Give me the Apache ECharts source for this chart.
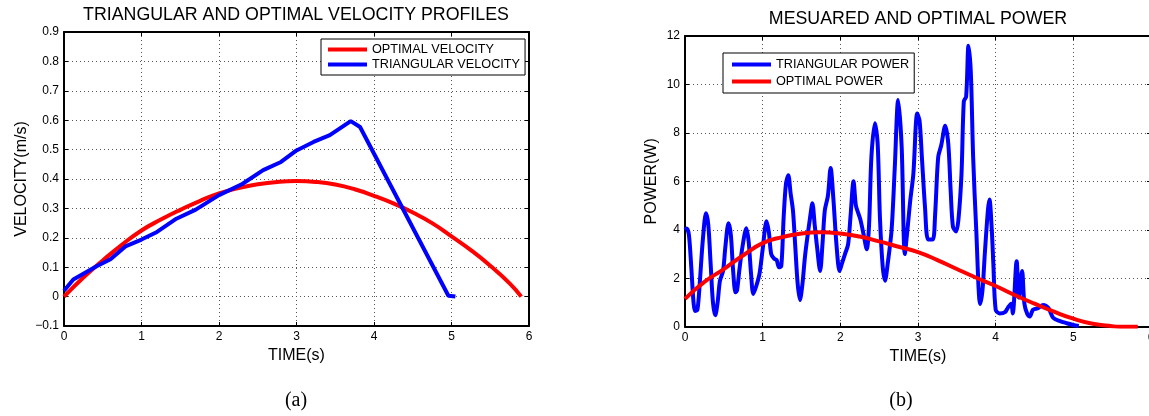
<!DOCTYPE html>
<html><head><meta charset="utf-8">
<script src="https://cdn.jsdelivr.net/npm/echarts@6/dist/echarts.min.js"></script>
<style>html,body{margin:0;padding:0;background:#fff}#c{width:1149px;height:416px}</style>
</head><body><div id="c"></div>
<script>
// ---------- DATA ----------
// (a) velocity profiles
const optVelT = [0, 0.25, 0.5, 0.75, 1.0, 1.25, 1.5, 1.75, 2.0, 2.25, 2.5, 2.75, 3.0, 3.25, 3.5, 3.75, 4.0, 4.25, 4.5, 4.75, 5.0, 5.25, 5.5, 5.75, 5.9];
const optVelV = [0, 0.065, 0.123, 0.177, 0.225, 0.262, 0.295, 0.325, 0.351, 0.369, 0.382, 0.39, 0.393, 0.39, 0.381, 0.365, 0.343, 0.317, 0.286, 0.25, 0.205, 0.158, 0.105, 0.045, 0];
const triVelT = [0, 0.12, 0.42, 0.6, 0.8, 1.0, 1.2, 1.45, 1.7, 2.0, 2.3, 2.57, 2.8, 3.0, 3.22, 3.43, 3.7, 3.82, 4.96, 5.05];
const triVelV = [0.02, 0.058, 0.103, 0.127, 0.172, 0.194, 0.22, 0.265, 0.296, 0.345, 0.383, 0.43, 0.458, 0.497, 0.526, 0.549, 0.597, 0.577, 0.003, 0];
// (b) power
const triPowT = [0.0, 0.02, 0.05, 0.08, 0.11, 0.13, 0.16, 0.19, 0.23, 0.27, 0.3, 0.33, 0.36, 0.39, 0.42, 0.45, 0.49, 0.52, 0.56, 0.59, 0.62, 0.65, 0.67, 0.7, 0.74, 0.79, 0.82, 0.85, 0.88, 0.92, 0.96, 1.0, 1.05, 1.08, 1.11, 1.15, 1.18, 1.21, 1.24, 1.27, 1.3, 1.33, 1.36, 1.39, 1.42, 1.45, 1.48, 1.51, 1.545, 1.58, 1.61, 1.64, 1.67, 1.7, 1.74, 1.77, 1.8, 1.84, 1.875, 1.91, 1.95, 1.99, 2.02, 2.06, 2.1, 2.13, 2.17, 2.2, 2.23, 2.26, 2.3, 2.34, 2.37, 2.4, 2.445, 2.48, 2.51, 2.545, 2.575, 2.61, 2.66, 2.7, 2.745, 2.79, 2.83, 2.87, 2.9, 2.94, 2.99, 3.02, 3.05, 3.09, 3.13, 3.19, 3.22, 3.26, 3.3, 3.35, 3.39, 3.42, 3.45, 3.49, 3.52, 3.56, 3.59, 3.62, 3.65, 3.68, 3.71, 3.75, 3.8, 3.83, 3.86, 3.9, 3.92, 3.95, 3.97, 4.0, 4.05, 4.12, 4.16, 4.2, 4.22, 4.27, 4.3, 4.34, 4.37, 4.41, 4.44, 4.48, 4.55, 4.61, 4.68, 4.74, 4.83, 4.91, 5.0, 5.07];
const triPowP = [4.0, 4.05, 3.8, 2.5, 1.0, 0.65, 0.7, 1.8, 3.6, 4.68, 4.2, 2.6, 1.0, 0.47, 1.0, 1.9, 2.3, 3.3, 4.27, 3.8, 2.3, 1.42, 1.5, 2.34, 3.3, 4.06, 3.5, 2.2, 1.35, 1.7, 2.2, 3.2, 4.35, 3.9, 3.0, 2.8, 2.75, 2.45, 2.5, 4.5, 5.9, 6.25, 5.5, 4.8, 3.3, 1.8, 1.1, 1.7, 2.9, 3.8, 4.5, 5.1, 4.2, 3.3, 2.3, 3.4, 4.8, 5.4, 6.55, 5.3, 3.4, 2.3, 2.6, 3.0, 3.4, 4.5, 6.0, 5.0, 4.7, 4.4, 3.8, 3.2, 4.2, 7.0, 8.4, 7.6, 4.5, 2.5, 1.9, 2.6, 4.0, 6.5, 9.36, 7.4, 3.0, 4.2, 5.2, 6.3, 8.8, 8.5, 7.0, 4.95, 3.6, 3.6, 4.6, 7.0, 7.5, 8.3, 7.55, 5.65, 4.13, 3.93, 4.4, 6.3, 9.3, 9.5, 11.6, 10.5, 7.0, 4.0, 0.94, 1.5, 3.0, 4.8, 5.25, 4.0, 2.6, 0.7, 0.55, 0.6, 0.8, 0.95, 0.55, 2.7, 1.2, 2.3, 0.95, 0.5, 0.42, 0.7, 0.77, 0.9, 0.77, 0.37, 0.23, 0.15, 0.07, 0.03];
const optPowT = [0, 0.25, 0.5, 0.75, 1.0, 1.25, 1.5, 1.75, 2.0, 2.25, 2.5, 2.75, 3.0, 3.25, 3.5, 3.75, 4.0, 4.25, 4.5, 4.75, 5.0, 5.25, 5.5, 5.6, 5.83];
const optPowP = [1.15, 1.85, 2.38, 2.95, 3.45, 3.7, 3.85, 3.9, 3.85, 3.72, 3.52, 3.3, 3.08, 2.75, 2.38, 2.02, 1.68, 1.3, 0.95, 0.62, 0.33, 0.12, 0.02, 0, 0];

const velTicks = {min: -0.1, max: 0.9, interval: 0.1};
const powTicks = {min: 0, max: 12, interval: 2};
const timeTicks = {min: 0, max: 6, interval: 1};

const TITLE_A = 'TRIANGULAR AND OPTIMAL VELOCITY PROFILES';
const TITLE_B = 'MESUARED AND OPTIMAL POWER';

// ---------- CHART ----------
const zip = (a, b) => a.map((v, i) => [v, b[i]]);
const FONT = 'Liberation Sans, Arial, Helvetica, sans-serif';
const fmt = v => String(Math.round(v * 10) / 10).replace('-', '\u2212');

function mainX(grid, name) {
  return {
    gridIndex: grid, type: 'value', ...timeTicks,
    name: name, nameLocation: 'middle', nameGap: 17,
    nameTextStyle: {fontFamily: FONT, fontSize: 16, color: '#000'},
    axisLine: {onZero: false, lineStyle: {color: '#000', width: 2}},
    axisTick: {inside: true, length: 4, lineStyle: {color: '#000', width: 1}},
    axisLabel: {fontFamily: FONT, fontSize: 12, color: '#000', margin: 5, formatter: fmt, hideOverlap: false},
    splitLine: {show: true, lineStyle: {color: '#555', width: 1, type: [1, 3]}}
  };
}
function mainY(grid, ticks, name, gap) {
  return {
    gridIndex: grid, type: 'value', ...ticks,
    name: name, nameLocation: 'middle', nameGap: gap,
    nameTextStyle: {fontFamily: FONT, fontSize: 16, color: '#000'},
    axisLine: {onZero: false, lineStyle: {color: '#000', width: 2}},
    axisTick: {inside: true, length: 4, lineStyle: {color: '#000', width: 1}},
    axisLabel: {fontFamily: FONT, fontSize: 12, color: '#000', margin: 5, formatter: fmt},
    splitLine: {show: true, lineStyle: {color: '#555', width: 1, type: [1, 3]}}
  };
}
function boxX(grid) {
  return {gridIndex: grid, type: 'value', position: 'top', ...timeTicks,
    axisLine: {onZero: false, lineStyle: {color: '#000', width: 2}},
    axisTick: {inside: true, length: 4, lineStyle: {color: '#000', width: 1}},
    axisLabel: {show: false}, splitLine: {show: false}};
}
function boxY(grid, ticks) {
  return {gridIndex: grid, type: 'value', position: 'right', ...ticks,
    axisLine: {onZero: false, lineStyle: {color: '#000', width: 2}},
    axisTick: {inside: true, length: 4, lineStyle: {color: '#000', width: 1}},
    axisLabel: {show: false}, splitLine: {show: false}};
}
function legend(left, top, names, pad, gap) {
  return {
    orient: 'vertical', left: left, top: top, data: names,
    backgroundColor: '#fff', borderColor: '#000', borderWidth: 1, borderRadius: 0,
    padding: pad, itemGap: gap, itemWidth: 39, itemHeight: 4, icon: 'rect',
    textStyle: {fontFamily: FONT, fontSize: 12.7, color: '#000'}
  };
}

const chart = echarts.init(document.getElementById('c'), null, {renderer: 'canvas'});
chart.setOption({
  animation: false,
  backgroundColor: '#fff',
  grid: [
    {left: 64, top: 32, width: 465, height: 294, containLabel: false, outerBoundsMode: 'none'},
    {left: 685, top: 36, width: 466, height: 290.7, containLabel: false, outerBoundsMode: 'none'}
  ],
  xAxis: [mainX(0, 'TIME(s)'), boxX(0), mainX(1, 'TIME(s)'), boxX(1)],
  yAxis: [mainY(0, velTicks, 'VELOCITY(m/s)', 34), boxY(0, velTicks), mainY(1, powTicks, 'POWER(W)', 25), boxY(1, powTicks)],
  legend: [
    legend(321, 39, ['OPTIMAL VELOCITY', 'TRIANGULAR VELOCITY'], [4, 5, 4, 7], 2),
    legend(723, 53, ['TRIANGULAR POWER', 'OPTIMAL POWER'], [5, 5, 5, 9], 4)
  ],
  graphic: [
    {type: 'text', x: 296, y: 15, style: {text: TITLE_A, font: 'normal 17.8px ' + FONT, fill: '#000', align: 'center', verticalAlign: 'middle'}},
    {type: 'text', x: 918, y: 19, style: {text: TITLE_B, font: 'normal 17.8px ' + FONT, fill: '#000', align: 'center', verticalAlign: 'middle'}},
    {type: 'text', x: 296, y: 401, style: {text: '(a)', font: 'normal 20px Liberation Serif, DejaVu Serif, serif', fill: '#000', align: 'center', verticalAlign: 'middle'}},
    {type: 'text', x: 901, y: 401, style: {text: '(b)', font: 'normal 20px Liberation Serif, DejaVu Serif, serif', fill: '#000', align: 'center', verticalAlign: 'middle'}}
  ],
  series: [
    {name: 'OPTIMAL VELOCITY', type: 'line', xAxisIndex: 0, yAxisIndex: 0, data: zip(optVelT, optVelV),
      symbol: 'none', smooth: true, lineStyle: {color: '#ff0000', width: 4}, itemStyle: {color: '#ff0000'}, z: 2},
    {name: 'TRIANGULAR VELOCITY', type: 'line', xAxisIndex: 0, yAxisIndex: 0, data: zip(triVelT, triVelV),
      symbol: 'none', lineStyle: {color: '#0000ff', width: 4}, itemStyle: {color: '#0000ff'}, z: 3},
    {name: 'TRIANGULAR POWER', type: 'line', xAxisIndex: 2, yAxisIndex: 2, data: zip(triPowT, triPowP),
      symbol: 'none', smooth: 0.3, lineStyle: {color: '#0000ff', width: 4}, itemStyle: {color: '#0000ff'}, z: 2},
    {name: 'OPTIMAL POWER', type: 'line', xAxisIndex: 2, yAxisIndex: 2, data: zip(optPowT, optPowP),
      symbol: 'none', smooth: true, lineStyle: {color: '#ff0000', width: 4}, itemStyle: {color: '#ff0000'}, z: 3}
  ]
});
</script></body></html>
